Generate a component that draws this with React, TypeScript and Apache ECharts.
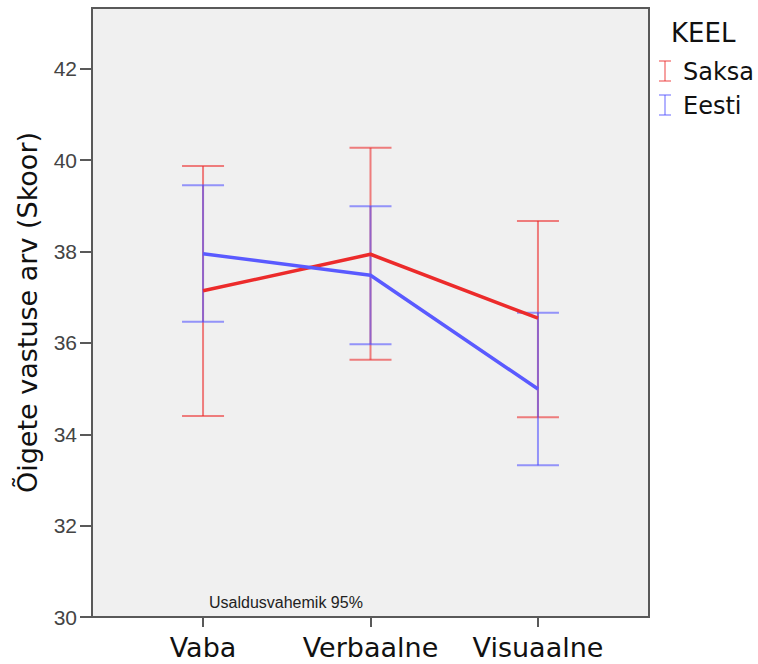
import React, { useEffect, useRef } from "react";
import * as echarts from "echarts";

const categories = ["Vaba", "Verbaalne", "Visuaalne"];
const catPositions = [1, 2, 3];
const yTicks = [30, 32, 34, 36, 38, 40, 42];

const saksaMean = [37.14, 37.94, 36.54];
const saksaLow = [34.4, 35.63, 34.37];
const saksaHigh = [39.87, 40.27, 38.67];

const eestiMean = [37.95, 37.48, 34.99];
const eestiLow = [36.46, 35.97, 33.32];
const eestiHigh = [39.45, 38.99, 36.66];

const legendTitle = "KEEL";
const seriesNames = ["Saksa", "Eesti"];
const noteText = "Usaldusvahemik 95%";
const yName = "Õigete vastuse arv (Skoor)";

const RED_LINE = "#ec2b2b";
const BLUE_LINE = "#5a5aff";
const RED_BAR = "rgba(236,40,40,0.58)";
const BLUE_BAR = "rgba(80,80,255,0.58)";

function errorSeries(name: string, low: number[], high: number[], color: string) {
  return {
    type: "custom",
    name,
    z: 2,
    renderItem: (params: any, api: any) => {
      const x = api.value(0);
      const lo = api.coord([x, api.value(1)]);
      const hi = api.coord([x, api.value(2)]);
      const hw = 21;
      const style = { stroke: color, lineWidth: 2, fill: "none" };
      return {
        type: "group",
        children: [
          { type: "line", shape: { x1: lo[0], y1: lo[1], x2: hi[0], y2: hi[1] }, style },
          { type: "line", shape: { x1: hi[0] - hw, y1: hi[1], x2: hi[0] + hw, y2: hi[1] }, style },
          { type: "line", shape: { x1: lo[0] - hw, y1: lo[1], x2: lo[0] + hw, y2: lo[1] }, style },
        ],
      };
    },
    data: catPositions.map((p, i) => [p, low[i], high[i]]),
  };
}

function lineSeries(name: string, mean: number[], color: string) {
  return {
    type: "line",
    name,
    z: 5,
    symbol: "none",
    lineStyle: { color, width: 3.5 },
    data: catPositions.map((p, i) => [p, mean[i]]),
  };
}

function legendIcon(x: number, y: number, color: string) {
  const style = { stroke: color, lineWidth: 1.5 };
  return {
    type: "group",
    children: [
      { type: "line", shape: { x1: x - 6, y1: y - 10, x2: x + 6, y2: y - 10 }, style },
      { type: "line", shape: { x1: x, y1: y - 10, x2: x, y2: y + 10 }, style },
      { type: "line", shape: { x1: x - 6, y1: y + 10, x2: x + 6, y2: y + 10 }, style },
    ],
  };
}

export default function App() {
  const ref = useRef<HTMLDivElement>(null);
  useEffect(() => {
    document.body.style.margin = "0";
    const chart = echarts.init(ref.current!, null, { renderer: "svg" });
    chart.setOption({
      animation: false,
      backgroundColor: "#ffffff",
      grid: {
        left: 92,
        right: 109,
        top: 8,
        bottom: 47,
        show: true,
        backgroundColor: "#f0f0f0",
        borderColor: "#595959",
        borderWidth: 2,
        outerBoundsMode: "none",
      },
      xAxis: {
        type: "value",
        min: 0.337,
        max: 3.663,
        axisLine: { show: false },
        splitLine: { show: false },
        axisTick: {
          show: true,
          length: 10,
          lineStyle: { color: "#595959", width: 2 },
          customValues: catPositions,
        },
        axisLabel: {
          customValues: catPositions,
          formatter: (v: number) => categories[Math.round(v) - 1] ?? "",
          fontFamily: "DejaVu Sans",
          fontSize: 27,
          color: "#111",
          margin: 17,
        },
      },
      yAxis: {
        type: "value",
        min: 30,
        max: 43.33,
        name: yName,
        nameLocation: "middle",
        nameRotate: 90,
        nameGap: 51,
        nameTextStyle: { fontFamily: "DejaVu Sans", fontSize: 27, color: "#111" },
        axisLine: { show: false },
        splitLine: { show: false },
        axisTick: {
          show: true,
          length: 12,
          lineStyle: { color: "#595959", width: 2 },
          customValues: yTicks,
        },
        axisLabel: {
          customValues: yTicks,
          fontFamily: "Liberation Sans",
          fontSize: 21,
          color: "#444",
          margin: 15,
        },
      },
      series: [
        errorSeries(seriesNames[0], saksaLow, saksaHigh, RED_BAR),
        errorSeries(seriesNames[1], eestiLow, eestiHigh, BLUE_BAR),
        lineSeries(seriesNames[0], saksaMean, RED_LINE),
        lineSeries(seriesNames[1], eestiMean, BLUE_LINE),
      ],
      graphic: [
        {
          type: "text",
          left: 209,
          top: 594,
          style: { text: noteText, font: "16px 'Liberation Sans'", fill: "#222" },
          z: 10,
        },
        {
          type: "text",
          x: 671,
          y: 33,
          style: { text: legendTitle, font: "26px 'DejaVu Sans'", fill: "#111", verticalAlign: "middle" },
        },
        legendIcon(665, 71, RED_BAR),
        legendIcon(665, 105, BLUE_BAR),
        {
          type: "text",
          x: 683,
          y: 72,
          style: { text: seriesNames[0], font: "24px 'DejaVu Sans'", fill: "#111", verticalAlign: "middle" },
        },
        {
          type: "text",
          x: 683,
          y: 106,
          style: { text: seriesNames[1], font: "24px 'DejaVu Sans'", fill: "#111", verticalAlign: "middle" },
        },
      ],
    });
    return () => chart.dispose();
  }, []);
  return <div ref={ref} style={{ width: 758, height: 664 }} />;
}
